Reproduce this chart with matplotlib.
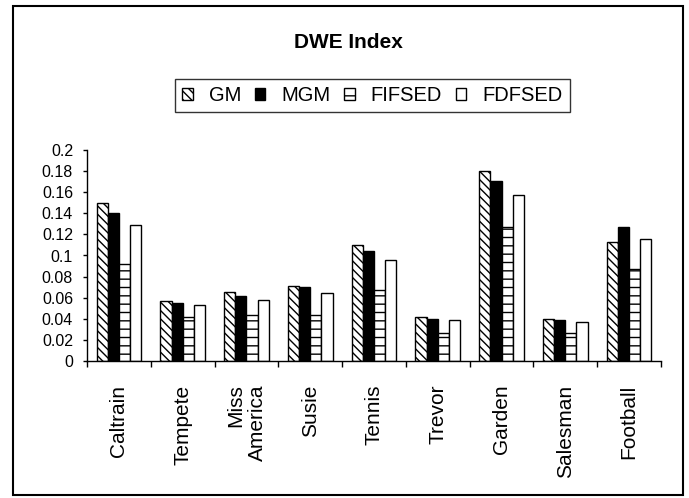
import numpy as np
import matplotlib
matplotlib.use("Agg")
from matplotlib import pyplot as plt
from matplotlib.patches import Rectangle

categories = ["Caltrain", "Tempete", "Miss\nAmerica", "Susie", "Tennis",
              "Trevor", "Garden", "Salesman", "Football"]
series_names = ["GM", "MGM", "FIFSED", "FDFSED"]

gm = [0.150, 0.057, 0.065, 0.071, 0.110, 0.042, 0.180, 0.040, 0.113]
mgm = [0.140, 0.055, 0.062, 0.070, 0.104, 0.040, 0.171, 0.039, 0.127]
fifsed = [0.092, 0.042, 0.044, 0.044, 0.067, 0.027, 0.127, 0.027, 0.087]
fdfsed = [0.129, 0.053, 0.058, 0.064, 0.096, 0.039, 0.157, 0.037, 0.116]

y_ticks = [0, 0.02, 0.04, 0.06, 0.08, 0.1, 0.12, 0.14, 0.16, 0.18, 0.2]
y_tick_labels = ["0", "0.02", "0.04", "0.06", "0.08", "0.1", "0.12",
                 "0.14", "0.16", "0.18", "0.2"]

plt.rcParams['font.family'] = ['Liberation Sans', 'DejaVu Sans']
plt.rcParams['hatch.linewidth'] = 1.0

fig = plt.figure(figsize=(6.89, 4.98), dpi=100)
ax = fig.add_axes([87 / 689, 1 - 361 / 498, (661 - 87) / 689, (361 - 150) / 498])

x = np.arange(len(categories))
w = 0.175
styles = [
    dict(facecolor='white', hatch='\\\\\\\\'),
    dict(facecolor='black', hatch=None),
    dict(facecolor='white', hatch='--'),
    dict(facecolor='white', hatch=None),
]
handles = []
for i, (vals, st) in enumerate(zip([gm, mgm, fifsed, fdfsed], styles)):
    b = ax.bar(x + (i - 1.5) * w, vals, width=w, edgecolor='black',
               linewidth=1.0, label=series_names[i], **st)
    handles.append(b)

ax.set_xlim(-0.5, len(categories) - 0.5)
ax.set_ylim(0, 0.2)
ax.set_yticks(y_ticks)
ax.set_yticklabels(y_tick_labels, fontsize=11.5)
ax.tick_params(axis='y', direction='out', length=3, width=1, pad=7)

ax.set_xticks(x)
ax.set_xticklabels(categories, rotation=90, fontsize=15, va='top',
                   ha='center', multialignment='right')
ax.tick_params(axis='x', which='major', length=0, pad=17)
ax.set_xticks(np.arange(len(categories) + 1) - 0.5, minor=True)
ax.tick_params(axis='x', which='minor', direction='out', length=4, width=1)

for s in ['top', 'right']:
    ax.spines[s].set_visible(False)
for s in ['left', 'bottom']:
    ax.spines[s].set_linewidth(1.0)

fig.text(348 / 689, 1 - 42 / 498, "DWE Index", ha='center', va='center',
         fontsize=15, fontweight='bold')

leg = fig.legend(handles=handles, labels=series_names, loc='center',
                 bbox_to_anchor=(372.5 / 689, 1 - 95.5 / 498), ncol=4,
                 fontsize=14.5, frameon=True, fancybox=False,
                 handlelength=0.5, handleheight=0.5, handletextpad=0.8,
                 columnspacing=0.7, borderpad=0.35, borderaxespad=0)
leg.get_frame().set_edgecolor('black')
leg.get_frame().set_linewidth(1.0)

fig.patches.append(Rectangle((13 / 689, 1 - 495 / 498), (683 - 13) / 689,
                             (495 - 6) / 498, transform=fig.transFigure,
                             fill=False, edgecolor='black', linewidth=1.5))

fig.savefig("out.png", dpi=100)
